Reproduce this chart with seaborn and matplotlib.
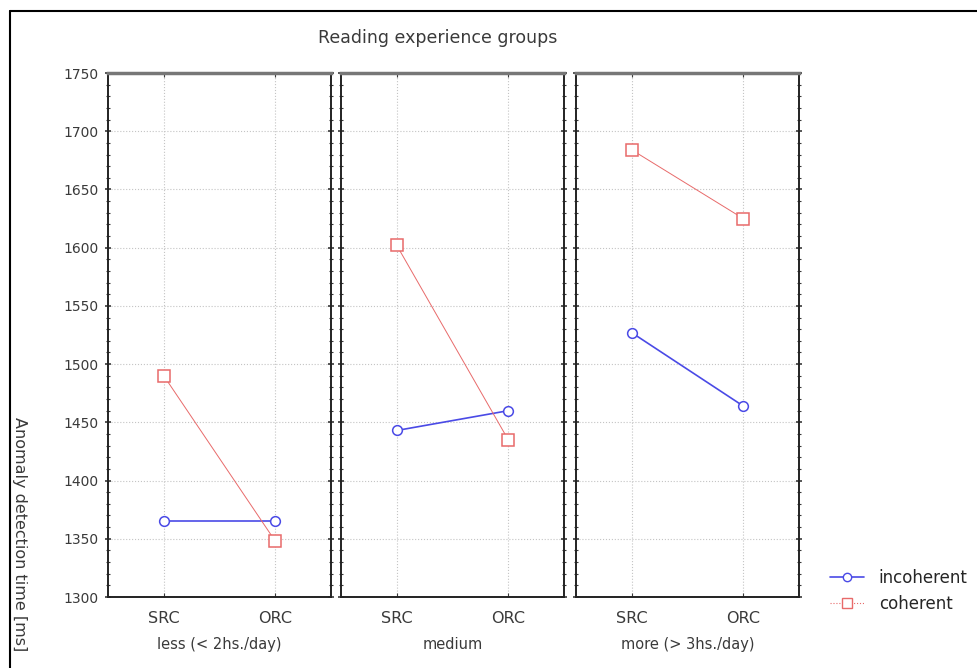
import matplotlib
matplotlib.use("Agg")
import matplotlib.pyplot as plt
from matplotlib.lines import Line2D
from matplotlib.ticker import MultipleLocator
import seaborn as sns
import pandas as pd

# data
groups = ["less (< 2hs./day)", "medium", "more (> 3hs./day)"]
clauses = ["SRC", "ORC"]
incoherent = [[1365, 1365], [1443, 1460], [1527, 1464]]
coherent = [[1490, 1348], [1602, 1435], [1684, 1625]]

sns.set_style("white")
plt.rcParams["font.family"] = ["DejaVu Sans"]

rows = []
for g, inc, coh in zip(groups, incoherent, coherent):
    for c, v in zip(clauses, inc):
        rows.append({"group": g, "clause": c, "condition": "incoherent", "time": v})
    for c, v in zip(clauses, coh):
        rows.append({"group": g, "clause": c, "condition": "coherent", "time": v})
df = pd.DataFrame(rows)

palette = {"incoherent": "#4a4ae6", "coherent": "#e86a6a"}
markers = {"incoherent": "o", "coherent": "s"}
txt = "#3a3a3a"

fig = plt.figure(figsize=(9.77, 6.68), dpi=100)
lefts = [108, 341, 576]
axes = []
for i, g in enumerate(groups):
    ax = fig.add_axes([lefts[i] / 977, 1 - 597 / 668, 223 / 977, 524 / 668])
    sub = df[df["group"] == g]
    sns.lineplot(data=sub, x="clause", y="time", hue="condition", style="condition",
                 palette=palette, markers=markers, dashes=False, markersize=7,
                 ax=ax, legend=False, sort=False)
    for ln in ax.lines:
        col = ln.get_color()
        ln.set_markerfacecolor("white")
        ln.set_markeredgecolor(col)
        ln.set_markeredgewidth(1.1)
        if col == palette["coherent"]:
            ln.set_linewidth(0.7)
            ln.set_markersize(8)
        else:
            ln.set_linewidth(1.2)
            ln.set_markersize(7)
        ln.set_zorder(3)
    ax.set_xlim(-0.5, 1.5)
    ax.set_ylim(1300, 1750)
    ax.yaxis.set_major_locator(MultipleLocator(50))
    ax.yaxis.set_minor_locator(MultipleLocator(10))
    ax.grid(True, which="major", color="#c4c4c4", linestyle=":", linewidth=0.8)
    ax.tick_params(axis="y", which="both", direction="inout", left=True, right=True,
                   labelsize=10, colors=txt)
    ax.tick_params(axis="y", which="major", length=4, width=1.2, pad=5)
    ax.tick_params(axis="y", which="minor", length=3, width=0.8)
    ax.tick_params(axis="x", direction="in", top=True, bottom=True, length=3,
                   labelsize=11.5, colors=txt, pad=10)
    if i > 0:
        ax.set_yticklabels([])
    ax.set_ylabel("")
    ax.set_xlabel(g, fontsize=10.5, color=txt, labelpad=8)
    for s in ax.spines.values():
        s.set_color("#222222")
        s.set_linewidth(1.4)
    ax.spines["top"].set_color("#777777")
    ax.spines["top"].set_linewidth(2.5)
    axes.append(ax)

fig.text(438 / 977, 1 - 38 / 668, "Reading experience groups", ha="center",
         va="center", fontsize=12.5, color=txt)
fig.text(19 / 977, 1 - 534 / 668, "Anomaly detection time [ms]", rotation=270,
         ha="center", va="center", fontsize=11.5, color=txt)

handles = [
    Line2D([], [], color=palette["incoherent"], marker="o", markerfacecolor="white",
           linewidth=1.2, markersize=6),
    Line2D([], [], color=palette["coherent"], marker="s", markerfacecolor="white",
           linewidth=0.8, linestyle=":", markersize=7),
]
fig.legend(handles, ["incoherent", "coherent"], loc="center left",
           bbox_to_anchor=(822 / 977, 1 - 591 / 668), frameon=False, fontsize=12,
           handlelength=2.0, labelspacing=0.45, borderpad=0, handletextpad=0.9)

# outer frame (top and left edges only visible)
fig.add_artist(Line2D([10 / 977, 1], [1 - 11 / 668, 1 - 11 / 668],
                      transform=fig.transFigure, color="black", linewidth=1.5))
fig.add_artist(Line2D([10 / 977, 10 / 977], [1 - 11 / 668, 0],
                      transform=fig.transFigure, color="black", linewidth=1.5))

fig.savefig("out.png", dpi=100)
